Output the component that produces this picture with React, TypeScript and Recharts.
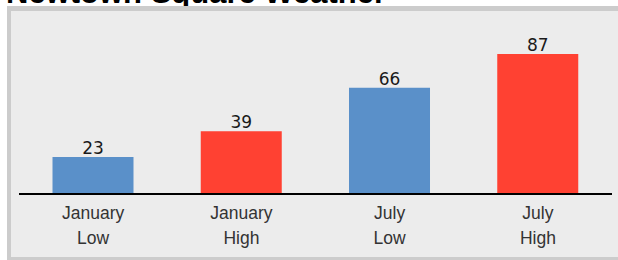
import { Bar, BarChart, Cell, LabelList, XAxis, YAxis } from "recharts";

const months = ["January", "January", "July", "July"];
const kinds = ["Low", "High", "Low", "High"];
const temps = [23, 39, 66, 87];

const BLUE = "#5a90c9";
const RED = "#ff4132";
const barColors = [BLUE, RED, BLUE, RED];

const rows = months.map((m, i) => ({ name: `${m}\n${kinds[i]}`, month: m, kind: kinds[i], temp: temps[i] }));

function TwoLineTick(props: any) {
  const { x, y, payload } = props;
  const [top, bottom] = String(payload.value).split("\n");
  return (
    <g>
      <text x={x} y={y + 17} textAnchor="middle" fontSize={17.5} fill="#333" fontFamily="Liberation Sans, Arial, sans-serif">
        {top}
      </text>
      <text x={x} y={y + 42} textAnchor="middle" fontSize={17.5} fill="#333" fontFamily="Liberation Sans, Arial, sans-serif">
        {bottom}
      </text>
    </g>
  );
}

export default function App() {
  return (
    <div style={{ position: "absolute", left: 0, top: 0, width: 618, height: 260, overflow: "hidden", background: "#fff" }}>
      <div
        style={{
          position: "absolute",
          left: 6,
          top: -23,
          fontFamily: "Liberation Sans, Arial, sans-serif",
          fontWeight: "bold",
          fontSize: 31,
          lineHeight: "31px",
          whiteSpace: "nowrap",
          color: "#000",
        }}
      >
        Newtown Square Weather
      </div>
      <div
        style={{
          position: "absolute",
          left: 7,
          top: 6,
          width: 640,
          height: 246,
          borderTop: "5px solid #cccccc",
          borderLeft: "4px solid #cccccc",
          borderBottom: "4px solid #cccccc",
          background: "#ececec",
        }}
      />
      <div style={{ position: "absolute", left: 0, top: 0 }}>
        <BarChart width={618} height={260} data={rows} margin={{ top: 33, right: 6, bottom: 0, left: 19 }} barCategoryGap="22.6%">
          <XAxis
            dataKey="name"
            height={66}
            interval={0}
            tickLine={false}
            axisLine={{ stroke: "#000", strokeWidth: 2 }}
            tick={<TwoLineTick />}
          />
          <YAxis hide domain={[0, 100]} />
          <Bar dataKey="temp" isAnimationActive={false}>
            {rows.map((r, i) => (
              <Cell key={r.name} fill={barColors[i]} />
            ))}
            <LabelList dataKey="temp" position="top" offset={3} fontSize={17} fill="#1a1a1a" fontFamily="DejaVu Sans, sans-serif" />
          </Bar>
        </BarChart>
      </div>
    </div>
  );
}
